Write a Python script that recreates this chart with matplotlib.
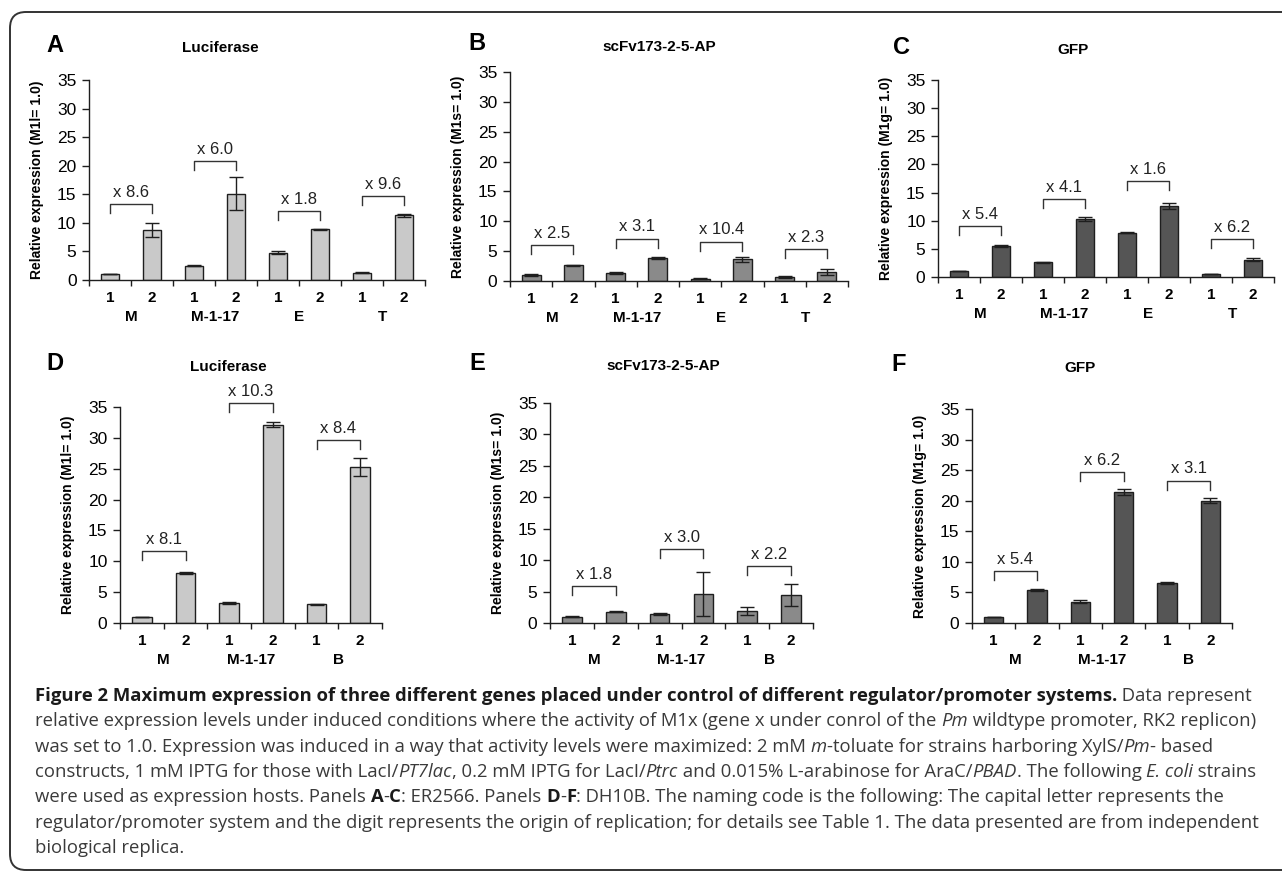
import numpy as np
import matplotlib
matplotlib.use("Agg")
import matplotlib.pyplot as plt
from matplotlib.patches import FancyBboxPatch
from matplotlib.transforms import IdentityTransform
from matplotlib.font_manager import FontProperties

# ---- data ----
groups_er = ["M", "M-1-17", "E", "T"]      # panels A-C (ER2566)
groups_dh = ["M", "M-1-17", "B"]           # panels D-F (DH10B)
replicons = ["1", "2"]

luc_er = [1.05, 8.7, 2.5, 15.1, 4.8, 8.9, 1.25, 11.3]
luc_er_err = [0.08, 1.2, 0.05, 2.9, 0.2, 0.08, 0.1, 0.2]
luc_er_fold = ["x 8.6", "x 6.0", "x 1.8", "x 9.6"]
luc_er_bracket = [13.3, 20.8, 12.1, 14.7]

scfv_er = [1.05, 2.6, 1.35, 3.85, 0.4, 3.65, 0.7, 1.5]
scfv_er_err = [0.2, 0.1, 0.2, 0.2, 0.05, 0.4, 0.12, 0.5]
scfv_er_fold = ["x 2.5", "x 3.1", "x 10.4", "x 2.3"]
scfv_er_bracket = [6.0, 7.1, 6.6, 5.35]

gfp_er = [1.05, 5.45, 2.6, 10.3, 7.9, 12.6, 0.5, 3.1]
gfp_er_err = [0.05, 0.2, 0.1, 0.4, 0.1, 0.6, 0.05, 0.2]
gfp_er_fold = ["x 5.4", "x 4.1", "x 1.6", "x 6.2"]
gfp_er_bracket = [9.0, 13.9, 17.0, 6.8]

luc_dh = [1.0, 8.1, 3.2, 32.1, 3.0, 25.3]
luc_dh_err = [0.05, 0.2, 0.2, 0.4, 0.1, 1.5]
luc_dh_fold = ["x 8.1", "x 10.3", "x 8.4"]
luc_dh_bracket = [11.6, 35.6, 29.7]

scfv_dh = [1.0, 1.8, 1.5, 4.6, 1.9, 4.45]
scfv_dh_err = [0.1, 0.1, 0.15, 3.5, 0.7, 1.7]
scfv_dh_fold = ["x 1.8", "x 3.0", "x 2.2"]
scfv_dh_bracket = [5.9, 11.8, 9.0]

gfp_dh = [1.0, 5.4, 3.5, 21.4, 6.5, 20.0]
gfp_dh_err = [0.05, 0.1, 0.2, 0.5, 0.15, 0.4]
gfp_dh_fold = ["x 5.4", "x 6.2", "x 3.1"]
gfp_dh_bracket = [8.5, 24.7, 23.3]

W, H = 1282, 872
plt.rcParams["font.family"] = ["Liberation Sans", "DejaVu Sans"]
fig = plt.figure(figsize=(W / 100, H / 100), dpi=100)

LUC_COLOR = "#c9c9c9"
SCFV_COLOR = "#8a8a8a"
GFP_COLOR = "#555555"
INK = "#1e1e1e"


def px_axes(x0, x1, y_top, y_zero):
    """axes from pixel positions of the y axis (top = 35, bottom = 0)"""
    return fig.add_axes([x0 / W, 1 - y_zero / H, (x1 - x0) / W, (y_zero - y_top) / H])


def draw_panel(ax, values, errors, groups, folds, bracket_y, color, ylabel):
    n = len(values)
    x = np.arange(n)
    ax.bar(x, values, width=0.45, color=color, edgecolor=INK, linewidth=1.0, zorder=2)
    ax.errorbar(x, values, yerr=errors, fmt="none", ecolor=INK, elinewidth=1.0,
                capsize=5, capthick=1.0, zorder=3)

    ax.set_xlim(-0.5, n - 0.5)
    ax.set_ylim(0, 35)
    ax.set_yticks(range(0, 36, 5))
    ax.tick_params(axis="y", length=5, width=1.0, pad=4, labelsize=12.5, color=INK)

    ax.set_xticks(x)
    ax.set_xticklabels(replicons * len(groups), fontweight="bold", fontsize=11)
    ax.set_xticks(np.arange(n + 1) - 0.5, minor=True)
    ax.tick_params(axis="x", which="major", length=0, pad=8)
    ax.tick_params(axis="x", which="minor", length=4, width=1.0, color=INK)

    for side in ("top", "right"):
        ax.spines[side].set_visible(False)
    for side in ("left", "bottom"):
        ax.spines[side].set_linewidth(1.0)
        ax.spines[side].set_color(INK)

    ax_w = ax.get_position().width * W
    ax_h = ax.get_position().height * H
    ax.set_ylabel(ylabel, fontsize=10, fontweight="bold")
    ax.yaxis.set_label_coords(-52 / ax_w, 0.5)
    ax.yaxis.label.set_verticalalignment("center")

    for i, g in enumerate(groups):
        ax.annotate(g, xy=(2 * i + 0.5, 0), xycoords=("data", "axes fraction"),
                    xytext=(0, -37 * 0.72), textcoords="offset points",
                    ha="center", va="center", fontweight="bold", fontsize=11)

    leg = 35 * 9 / ax_h
    for i, (fold, h) in enumerate(zip(folds, bracket_y)):
        x1, x2 = 2 * i, 2 * i + 1
        ax.plot([x1, x1, x2, x2], [h - leg, h, h, h - leg], color="#333333",
                linewidth=1.0, clip_on=False, zorder=4)
        ax.annotate(fold, xy=((x1 + x2) / 2, h), xytext=(0, 3),
                    textcoords="offset points", ha="center", va="bottom",
                    fontsize=12, color="#222222", annotation_clip=False)


panels = [
    (px_axes(89, 425, 80, 280), luc_er, luc_er_err, groups_er, luc_er_fold,
     luc_er_bracket, LUC_COLOR, "Relative expression (M1l= 1.0)"),
    (px_axes(510, 848, 72, 281), scfv_er, scfv_er_err, groups_er, scfv_er_fold,
     scfv_er_bracket, SCFV_COLOR, "Relative expression (M1s= 1.0)"),
    (px_axes(938, 1274, 80, 277), gfp_er, gfp_er_err, groups_er, gfp_er_fold,
     gfp_er_bracket, GFP_COLOR, "Relative expression (M1g= 1.0)"),
    (px_axes(120, 382, 407, 623), luc_dh, luc_dh_err, groups_dh, luc_dh_fold,
     luc_dh_bracket, LUC_COLOR, "Relative expression (M1l= 1.0)"),
    (px_axes(550, 813, 403, 623), scfv_dh, scfv_dh_err, groups_dh, scfv_dh_fold,
     scfv_dh_bracket, SCFV_COLOR, "Relative expression (M1s= 1.0)"),
    (px_axes(972, 1232, 409, 623), gfp_dh, gfp_dh_err, groups_dh, gfp_dh_fold,
     gfp_dh_bracket, GFP_COLOR, "Relative expression (M1g= 1.0)"),
]
for args in panels:
    draw_panel(*args)

# panel letters and titles (pixel positions)
letters = [("A", 55, 46), ("B", 477, 43), ("C", 901, 47),
           ("D", 55, 363), ("E", 477, 363), ("F", 899, 364)]
titles = [("Luciferase", 220, 48), ("scFv173-2-5-AP", 659, 47), ("GFP", 1073, 50),
          ("Luciferase", 228, 367), ("scFv173-2-5-AP", 663, 366), ("GFP", 1080, 368)]
for s, x, y in letters:
    fig.text(x / W, 1 - y / H, s, fontsize=17, fontweight="bold", ha="center", va="center")
for s, x, y in titles:
    fig.text(x / W, 1 - y / H, s, fontsize=11, fontweight="bold", ha="center", va="center")

# ---- caption with mixed styles ----
caption = [
    [("Figure 2 Maximum expression of three different genes placed under control of "
      "different regulator/promoter systems.", "b"), (" Data represent", "n")],
    [("relative expression levels under induced conditions where the activity of M1x "
      "(gene x under conrol of the ", "n"), ("Pm", "i"),
     (" wildtype promoter, RK2 replicon)", "n")],
    [("was set to 1.0. Expression was induced in a way that activity levels were "
      "maximized: 2 mM ", "n"), ("m", "i"), ("-toluate for strains harboring XylS/", "n"),
     ("Pm", "i"), ("- based", "n")],
    [("constructs, 1 mM IPTG for those with LacI/", "n"), ("PT7lac", "i"),
     (", 0.2 mM IPTG for LacI/", "n"), ("Ptrc", "i"),
     (" and 0.015% L-arabinose for AraC/", "n"), ("PBAD", "i"),
     (". The following ", "n"), ("E. coli", "i"), (" strains", "n")],
    [("were used as expression hosts. Panels ", "n"), ("A", "b"), ("-", "n"), ("C", "b"),
     (": ER2566. Panels ", "n"), ("D", "b"), ("-", "n"), ("F", "b"),
     (": DH10B. The naming code is the following: The capital letter represents the", "n")],
    [("regulator/promoter system and the digit represents the origin of replication; "
      "for details see Table 1. The data presented are from independent", "n")],
    [("biological replica.", "n")],
]

cap_family = "Open Sans"
renderer = fig.canvas.get_renderer()


def seg_prop(style, size):
    return FontProperties(family=cap_family, size=size,
                          weight="bold" if style == "b" else "normal",
                          style="italic" if style == "i" else "normal")


def seg_width(s, prop):
    w1, _, _ = renderer.get_text_width_height_descent("|" + s + "|", prop, ismath=False)
    w2, _, _ = renderer.get_text_width_height_descent("||", prop, ismath=False)
    return w1 - w2


ref = sum(seg_width(s, seg_prop(st, 10)) for s, st in caption[1])
cap_size = 10 * 1218 / ref

base_y = 701
for k, line in enumerate(caption):
    xpos = 35
    ypos = H - (base_y + k * 25.3)
    for s, st in line:
        prop = seg_prop(st, cap_size)
        fig.text(xpos, ypos, s, fontproperties=prop, transform=IdentityTransform(),
                 ha="left", va="baseline",
                 color="#1a1a1a" if st == "b" else "#3a3a3a")
        xpos += seg_width(s, prop)

frame = FancyBboxPatch((10, 2), 1500, 858, boxstyle="round,pad=0,rounding_size=16",
                       transform=IdentityTransform(), fill=False,
                       edgecolor="#333333", linewidth=1.4)
fig.add_artist(frame)

fig.savefig("out.png", dpi=100)
